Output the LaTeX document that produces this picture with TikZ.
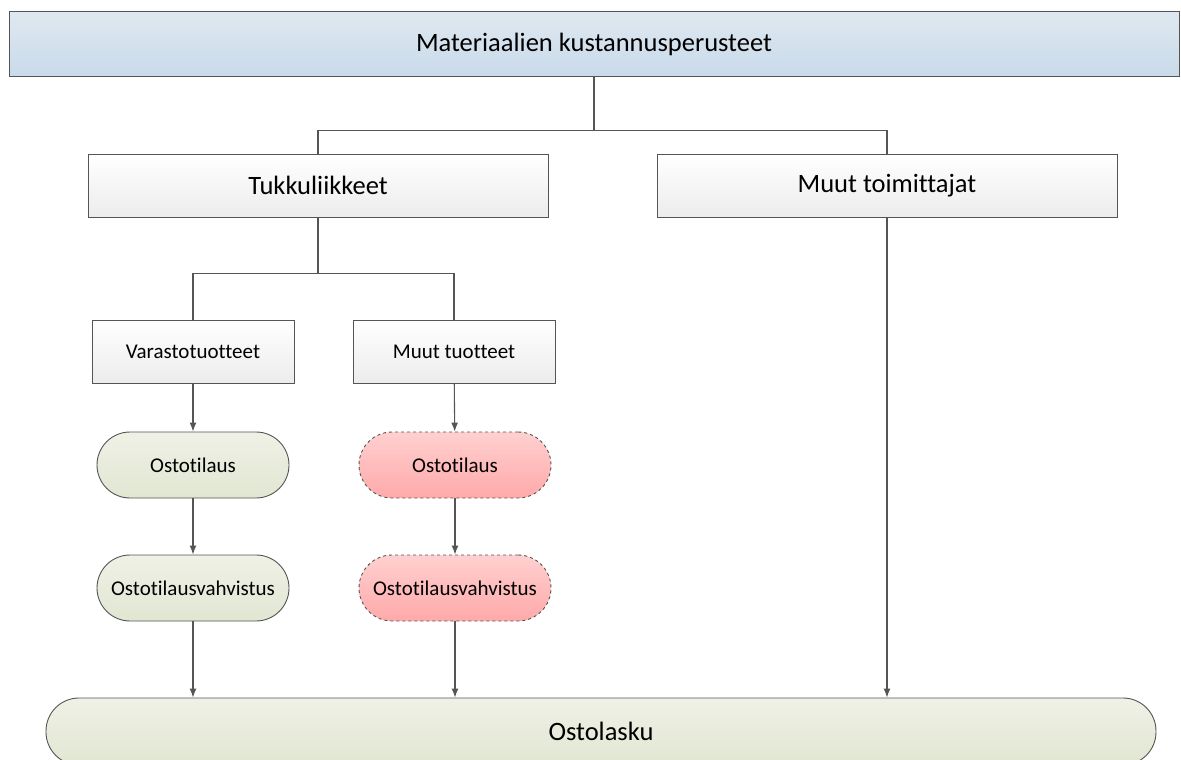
\documentclass[tikz,border=0pt]{standalone}
\usepackage{fontspec}
\setmainfont{Carlito}[Ligatures={NoCommon}]
\usetikzlibrary{arrows.meta}

\definecolor{linegray}{HTML}{555555}
\definecolor{bluetop}{HTML}{DFE8F0}
\definecolor{bluebot}{HTML}{C8DAEA}
\definecolor{graytop}{HTML}{FFFFFF}
\definecolor{graybot}{HTML}{ECECEC}
\definecolor{greentop}{HTML}{EFF1E6}
\definecolor{greenbot}{HTML}{E1E6D2}
\definecolor{redtop}{HTML}{FFD0D0}
\definecolor{redbot}{HTML}{FFA9A9}

\tikzset{
  headbox/.style={draw=linegray,line width=1pt,top color=bluetop,bottom color=bluebot,
    minimum width=1170pt,minimum height=65pt,font=\fontsize{26.5}{30}\selectfont},
  groupbox/.style={draw=linegray,line width=1pt,top color=graytop,bottom color=graybot,
    minimum width=460pt,minimum height=63pt,font=\fontsize{26.5}{30}\selectfont},
  itembox/.style={draw=linegray,line width=1pt,top color=graytop,bottom color=graybot,
    minimum width=202pt,minimum height=63pt,font=\fontsize{21}{25}\selectfont},
  okdoc/.style={draw=linegray,line width=0.9pt,top color=greentop,bottom color=greenbot,
    rounded corners=33pt,minimum width=192pt,minimum height=66pt,font=\fontsize{21}{25}\selectfont},
  extradoc/.style={okdoc,dashed,top color=redtop,bottom color=redbot},
  flow/.style={draw=linegray,line width=1.1pt,-{Latex[length=9pt,width=7pt]}},
  tree/.style={draw=linegray,line width=1.1pt}
}

\begin{document}
\begin{tikzpicture}[x=1pt,y=-1pt]
    \useasboundingbox (0,0) rectangle (1181,760);
    \begin{scope}
    \clip (0,0) rectangle (1181,760);
    % boxes
    \node[headbox] (perusteet) at (594,44.5) {Materiaalien kustannusperusteet};
    \node[groupbox] (tukku) at (318,185.5) {Tukkuliikkeet};
    \node[groupbox] (toimittajat) at (887,185.5) {Muut toimittajat};
    \node[itembox] (varasto) at (193,351.5) {Varastotuotteet};
    \node[itembox] (muut) at (454,351.5) {Muut tuotteet};
    \node[okdoc] (tilaus1) at (193,465) {Ostotilaus};
    \node[okdoc] (vahvistus1) at (193,588) {Ostotilausvahvistus};
    \node[extradoc] (tilaus2) at (455,465) {Ostotilaus};
    \node[extradoc] (vahvistus2) at (455,588) {Ostotilausvahvistus};
    \node[okdoc,minimum width=1110pt,minimum height=67pt,font=\fontsize{26.5}{30}\selectfont]
      (lasku) at (601,731.5) {Ostolasku};
    % tree lines
    \draw[tree] (perusteet.south) -- ++(0,53) -| (tukku.north);
    \draw[tree] (perusteet.south) -- ++(0,53) -| (toimittajat.north);
    \draw[tree] (tukku.south) -- ++(0,56) -| (varasto.north);
    \draw[tree] (tukku.south) -- ++(0,56) -| (muut.north);
    % arrows
    \draw[flow] (varasto) -- (tilaus1);
    \draw[flow] (tilaus1) -- (vahvistus1);
    \draw[flow] (muut) -- (tilaus2);
    \draw[flow] (tilaus2) -- (vahvistus2);
    \draw[flow] (vahvistus1.south) -- (vahvistus1.south |- lasku.north);
    \draw[flow] (vahvistus2.south) -- (vahvistus2.south |- lasku.north);
    \draw[flow] (toimittajat.south) -- (toimittajat.south |- lasku.north);
    \end{scope}
\end{tikzpicture}
\end{document}
